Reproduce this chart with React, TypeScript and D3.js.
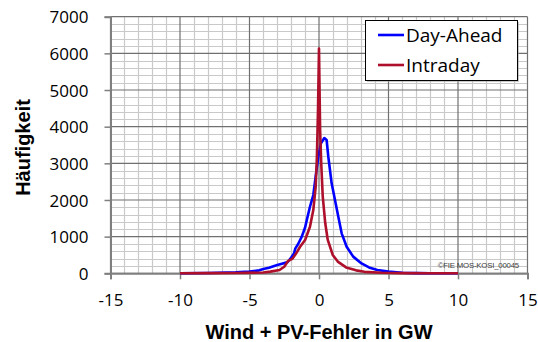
import { useEffect, useRef } from 'react'
import * as d3 from 'd3'

// Histogram of forecast errors (GW)
const dayAheadX = [-10, -8, -6, -5, -4.3, -4.0, -3.6, -3.0, -2.6, -2.25, -2.0, -1.8, -1.7, -1.5, -1.24, -1.0, -0.88, -0.65, -0.41, -0.24, -0.05, 0.14, 0.38, 0.55, 0.67, 0.91, 1.15, 1.39, 1.63, 1.99, 2.46, 3.06, 3.6, 4.2, 5.0, 6.0, 7.0, 8, 10]
const dayAheadY = [0, 10, 25, 50, 80, 115, 150, 225, 270, 310, 430, 540, 680, 800, 1000, 1250, 1450, 1815, 2135, 2635, 3180, 3545, 3690, 3635, 3180, 2455, 2000, 1545, 1090, 725, 455, 270, 160, 90, 45, 15, 5, 0, 0]

const intradayX = [-10, -8, -6, -4.0, -3.5, -2.84, -2.5, -2.24, -1.9, -1.64, -1.36, -1.0, -0.65, -0.41, -0.24, -0.15, -0.07, 0.0, 0.08, 0.16, 0.27, 0.45, 0.63, 0.99, 1.35, 1.95, 2.67, 3.27, 4.5, 6, 8, 10]
const intradayY = [0, 5, 10, 20, 45, 90, 180, 330, 400, 545, 725, 910, 1270, 1725, 2360, 3180, 4500, 6130, 3900, 3000, 2090, 1365, 910, 500, 320, 160, 80, 40, 15, 5, 0, 0]

const xTicks = [-15, -10, -5, 0, 5, 10, 15]
const yTicks = [0, 1000, 2000, 3000, 4000, 5000, 6000, 7000]

const SERIES = [
  { name: 'Day-Ahead', xs: dayAheadX, ys: dayAheadY, color: '#0000FF' },
  { name: 'Intraday', xs: intradayX, ys: intradayY, color: '#AE0F2B' },
]

const W = 538
const H = 342

export default function App() {
  const svgRef = useRef<SVGSVGElement>(null)

  useEffect(() => {
    const svg = svgRef.current
    if (!svg) return
    const root = d3.select(svg)
    root.selectAll('*').remove()

    const x = d3.scaleLinear().domain([-15, 15]).range([110.5, 527.5])
    const y = d3.scaleLinear().domain([0, 7000]).range([273.3, 16.7])

    const grid = root.append('g')

    // minor grid (1 GW / 200)
    d3.range(-15, 15.01, 1).forEach(v => {
      if (v % 5 === 0) return
      grid.append('line').attr('x1', Math.round(x(v)) + 0.5).attr('x2', Math.round(x(v)) + 0.5)
        .attr('y1', y(0)).attr('y2', y(7000))
        .attr('stroke', '#C9C9C9').attr('stroke-width', 1.2)
    })
    d3.range(0, 7001, 200).forEach(v => {
      if (v % 1000 === 0) return
      grid.append('line').attr('x1', x(-15)).attr('x2', x(15))
        .attr('y1', Math.round(y(v)) + 0.5).attr('y2', Math.round(y(v)) + 0.5)
        .attr('stroke', '#C9C9C9').attr('stroke-width', 1.2)
    })
    // major grid
    xTicks.forEach(v => {
      grid.append('line').attr('x1', x(v)).attr('x2', x(v)).attr('y1', y(0)).attr('y2', y(7000))
        .attr('stroke', '#707070').attr('stroke-width', 1.2)
    })
    yTicks.forEach(v => {
      grid.append('line').attr('x1', x(-15)).attr('x2', x(15)).attr('y1', y(v)).attr('y2', y(v))
        .attr('stroke', '#707070').attr('stroke-width', 1.2)
    })

    // Y axis
    root.append('g')
      .attr('transform', `translate(${x(-15)},0)`)
      .call(d3.axisLeft(y).tickValues(yTicks).tickSize(6).tickPadding(16).tickFormat(d => String(d)))
      .call(ax => {
        ax.select('.domain').attr('stroke', '#7F7F7F').attr('stroke-width', 2)
        ax.selectAll('.tick line').attr('stroke', '#7F7F7F').attr('stroke-width', 1.5)
        ax.selectAll('text').attr('fill', '#000').attr('font-size', '17px')
          .attr('font-family', '"Open Sans", sans-serif').attr('dy', '0.36em')
      })

    // X axis
    root.append('g')
      .attr('transform', `translate(0,${y(0)})`)
      .call(d3.axisBottom(x).tickValues(xTicks).tickSize(6).tickPadding(15).tickFormat(d => String(d)))
      .call(ax => {
        ax.select('.domain').attr('stroke', '#7F7F7F').attr('stroke-width', 2)
        ax.selectAll('.tick line').attr('stroke', '#7F7F7F').attr('stroke-width', 1.5)
        ax.selectAll('text').attr('fill', '#000').attr('font-size', '17px')
          .attr('font-family', '"Open Sans", sans-serif')
      })

    // watermark
    root.append('text')
      .attr('x', 519).attr('y', 267.5).attr('text-anchor', 'end')
      .attr('font-size', '7.8px').attr('font-family', '"Liberation Sans", Arial, sans-serif')
      .attr('fill', '#404040').attr('letter-spacing', '-0.2')
      .text('©FIE MOS-KOSI_00045')

    // series
    SERIES.forEach(s => {
      const line = d3.line<number>()
        .x((_, i) => x(s.xs[i]))
        .y(d => y(d))
      root.append('path')
        .attr('d', line(s.ys) ?? '')
        .attr('fill', 'none')
        .attr('stroke', s.color)
        .attr('stroke-width', 2.6)
        .attr('stroke-linejoin', 'round')
    })

    // axis titles
    root.append('text')
      .attr('x', x(0)).attr('y', 338.5).attr('text-anchor', 'middle')
      .attr('font-size', '20px').attr('font-weight', 'bold')
      .attr('font-family', '"Liberation Sans", Arial, sans-serif')
      .text('Wind + PV-Fehler in GW')
    root.append('text')
      .attr('transform', 'translate(30,147.5) rotate(-90)')
      .attr('text-anchor', 'middle')
      .attr('font-size', '20px').attr('font-weight', 'bold')
      .attr('font-family', '"Liberation Sans", Arial, sans-serif')
      .text('Häufigkeit')

    // legend
    const lg = root.append('g')
    lg.append('rect').attr('x', 367).attr('y', 22).attr('width', 152).attr('height', 60)
      .attr('fill', '#A6A6A6').attr('opacity', 0.6)
    lg.append('rect').attr('x', 365.5).attr('y', 20.5).attr('width', 152).attr('height', 60)
      .attr('fill', '#fff').attr('stroke', '#000').attr('stroke-width', 1)
    SERIES.forEach((s, i) => {
      const ly = 35 + i * 30
      lg.append('line').attr('x1', 378).attr('x2', 404).attr('y1', ly).attr('y2', ly)
        .attr('stroke', s.color).attr('stroke-width', 2.6)
      lg.append('text').attr('x', 406).attr('y', ly + 7)
        .attr('font-size', '19px').attr('font-family', '"Open Sans", sans-serif')
        .attr('fill', '#000')
        .text(s.name)
    })
  }, [])

  return (
    <div style={{ position: 'absolute', left: 0, top: 0, width: W, height: H, background: '#fff' }}>
      <svg ref={svgRef} width={W} height={H} style={{ display: 'block' }} />
    </div>
  )
}
